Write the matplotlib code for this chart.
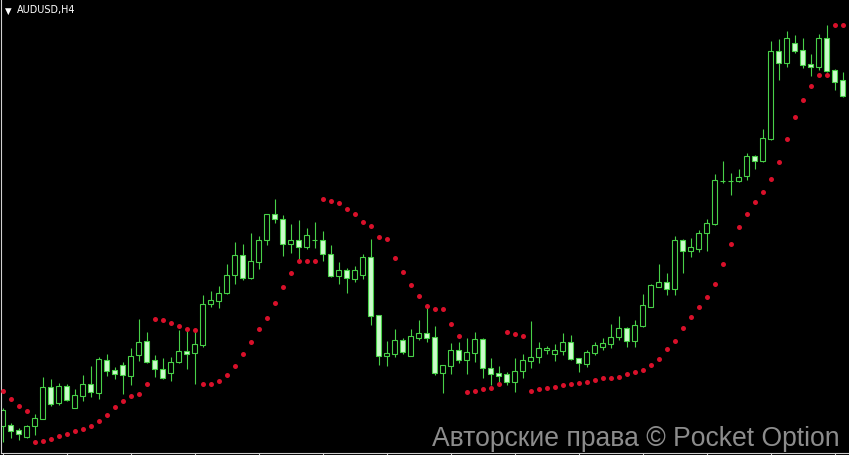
import matplotlib
matplotlib.use("Agg")
import matplotlib.pyplot as plt
import numpy as np

# ── Data: AUDUSD H4 candles + Parabolic SAR ─────────────────────────────────
opens = [0.6974, 0.6975, 0.6970, 0.6963, 0.6974, 0.6981, 0.7013, 0.6997, 0.7014, 0.6992,
         0.7004, 0.7016, 0.7007, 0.7040, 0.7030, 0.7035, 0.7024, 0.7045, 0.7059, 0.7040,
         0.7031, 0.7027, 0.7038, 0.7049, 0.7047, 0.7055, 0.7096, 0.7099, 0.7107, 0.7125,
         0.7145, 0.7122, 0.7138, 0.7160, 0.7186, 0.7181, 0.7156, 0.7160, 0.7153, 0.7160,
         0.7160, 0.7146, 0.7124, 0.7130, 0.7121, 0.7125, 0.7143, 0.7085, 0.7044, 0.7046,
         0.7060, 0.7044, 0.7062, 0.7067, 0.7063, 0.7027, 0.7034, 0.7050, 0.7040, 0.7047,
         0.7061, 0.7032, 0.7027, 0.7026, 0.7018, 0.7029, 0.7039, 0.7043, 0.7050, 0.7046,
         0.7049, 0.7058, 0.7042, 0.7036, 0.7047, 0.7053, 0.7056, 0.7063, 0.7072, 0.7059,
         0.7074, 0.7093, 0.7113, 0.7118, 0.7111, 0.7160, 0.7149, 0.7151, 0.7167, 0.7176,
         0.7219, 0.7219, 0.7219, 0.7224, 0.7244, 0.7239, 0.7261, 0.7349, 0.7337, 0.7357,
         0.7350, 0.7336, 0.7333, 0.7362, 0.7330, 0.7320]
highs = [0.6992, 0.6977, 0.6972, 0.6975, 0.6986, 0.7023, 0.7021, 0.7017, 0.7016, 0.7011,
         0.7025, 0.7034, 0.7043, 0.7046, 0.7033, 0.7038, 0.7052, 0.7081, 0.7068, 0.7045,
         0.7042, 0.7043, 0.7070, 0.7072, 0.7070, 0.7105, 0.7109, 0.7114, 0.7136, 0.7158,
         0.7156, 0.7167, 0.7164, 0.7186, 0.7201, 0.7185, 0.7176, 0.7180, 0.7172, 0.7178,
         0.7169, 0.7155, 0.7138, 0.7132, 0.7134, 0.7146, 0.7161, 0.7085, 0.7059, 0.7071,
         0.7062, 0.7071, 0.7080, 0.7092, 0.7074, 0.7035, 0.7057, 0.7058, 0.7062, 0.7068,
         0.7062, 0.7042, 0.7034, 0.7028, 0.7042, 0.7046, 0.7079, 0.7058, 0.7054, 0.7056,
         0.7067, 0.7065, 0.7042, 0.7050, 0.7058, 0.7062, 0.7076, 0.7084, 0.7073, 0.7080,
         0.7106, 0.7116, 0.7136, 0.7127, 0.7164, 0.7161, 0.7162, 0.7170, 0.7181, 0.7226,
         0.7239, 0.7227, 0.7231, 0.7247, 0.7245, 0.7271, 0.7359, 0.7361, 0.7369, 0.7365,
         0.7362, 0.7346, 0.7366, 0.7375, 0.7331, 0.7328]
lows = [0.6958, 0.6962, 0.6960, 0.6962, 0.6965, 0.6981, 0.6994, 0.6995, 0.6999, 0.6992,
        0.6999, 0.7003, 0.7001, 0.7024, 0.7021, 0.7006, 0.7015, 0.7039, 0.7037, 0.7023,
        0.7021, 0.7019, 0.7037, 0.7031, 0.7016, 0.7053, 0.7093, 0.7092, 0.7106, 0.7116,
        0.7120, 0.7121, 0.7131, 0.7155, 0.7177, 0.7144, 0.7147, 0.7141, 0.7151, 0.7152,
        0.7139, 0.7123, 0.7116, 0.7107, 0.7118, 0.7121, 0.7075, 0.7035, 0.7034, 0.7043,
        0.7046, 0.7044, 0.7060, 0.7058, 0.7025, 0.7007, 0.7026, 0.7037, 0.7026, 0.7038,
        0.7022, 0.7015, 0.7018, 0.7015, 0.7008, 0.7022, 0.7032, 0.7037, 0.7046, 0.7039,
        0.7045, 0.7040, 0.7028, 0.7033, 0.7045, 0.7050, 0.7052, 0.7060, 0.7053, 0.7053,
        0.7073, 0.7093, 0.7113, 0.7105, 0.7105, 0.7127, 0.7143, 0.7148, 0.7149, 0.7175,
        0.7217, 0.7205, 0.7218, 0.7220, 0.7231, 0.7238, 0.7260, 0.7320, 0.7333, 0.7347,
        0.7332, 0.7324, 0.7330, 0.7328, 0.7310, 0.7303]
closes = [0.6990, 0.6969, 0.6966, 0.6974, 0.6982, 0.7013, 0.6996, 0.7014, 0.7000, 0.7005,
          0.7016, 0.7008, 0.7041, 0.7029, 0.7026, 0.7025, 0.7044, 0.7058, 0.7038, 0.7031,
          0.7022, 0.7038, 0.7049, 0.7046, 0.7056, 0.7096, 0.7100, 0.7107, 0.7125, 0.7145,
          0.7122, 0.7139, 0.7160, 0.7186, 0.7181, 0.7156, 0.7160, 0.7153, 0.7165, 0.7160,
          0.7146, 0.7124, 0.7130, 0.7122, 0.7130, 0.7143, 0.7084, 0.7044, 0.7047, 0.7060,
          0.7048, 0.7064, 0.7067, 0.7062, 0.7027, 0.7035, 0.7050, 0.7040, 0.7048, 0.7061,
          0.7032, 0.7026, 0.7024, 0.7018, 0.7029, 0.7040, 0.7043, 0.7052, 0.7052, 0.7050,
          0.7058, 0.7041, 0.7037, 0.7048, 0.7055, 0.7057, 0.7063, 0.7072, 0.7059, 0.7075,
          0.7095, 0.7115, 0.7118, 0.7111, 0.7160, 0.7149, 0.7153, 0.7167, 0.7177, 0.7220,
          0.7219, 0.7219, 0.7223, 0.7244, 0.7239, 0.7262, 0.7349, 0.7337, 0.7362, 0.7349,
          0.7335, 0.7333, 0.7362, 0.7329, 0.7318, 0.7304]
sar = [0.7009, 0.7001, 0.6994, 0.6989, 0.6958, 0.6959, 0.6961, 0.6964, 0.6966, 0.6969,
       0.6971, 0.6974, 0.6979, 0.6985, 0.6993, 0.6999, 0.7004, 0.7006, 0.7016, 0.7081,
       0.7080, 0.7077, 0.7074, 0.7071, 0.7070, 0.7016, 0.7016, 0.7019, 0.7025, 0.7034,
       0.7046, 0.7058, 0.7071, 0.7082, 0.7097, 0.7113, 0.7127, 0.7139, 0.7139, 0.7139,
       0.7201, 0.7199, 0.7197, 0.7191, 0.7186, 0.7178, 0.7174, 0.7163, 0.7161, 0.7142,
       0.7128, 0.7115, 0.7104, 0.7094, 0.7091, 0.7091, 0.7076, 0.7064, 0.7008, 0.7009,
       0.7011, 0.7012, 0.7016, 0.7068, 0.7066, 0.7064, 0.7009, 0.7011, 0.7012, 0.7013,
       0.7015, 0.7016, 0.7017, 0.7018, 0.7020, 0.7022, 0.7022, 0.7023, 0.7026, 0.7028,
       0.7030, 0.7035, 0.7041, 0.7051, 0.7059, 0.7072, 0.7083, 0.7093, 0.7103, 0.7116,
       0.7136, 0.7156, 0.7173, 0.7186, 0.7198, 0.7208, 0.7221, 0.7238, 0.7261, 0.7283,
       0.7300, 0.7314, 0.7325, 0.7325, 0.7375, 0.7375]

symbol = "AUDUSD,H4"
watermark = "Авторские права © Pocket Option"

# ── Style ───────────────────────────────────────────────────────────────────
BG = "black"
EDGE = "#48d048"
BEAR_FILL = "#ccfccc"
SAR_COL = "#d8102a"
W, H = 849, 455

fig = plt.figure(figsize=(W / 100, H / 100), dpi=100, facecolor=BG)
ax = fig.add_axes([1 / W, 2.5 / H, 1 - 1 / W, 1 - 2.5 / H])
ax.set_facecolor(BG)

x = np.arange(len(opens))
o, h, l, c = map(np.array, (opens, highs, lows, closes))
bear = c < o

# wicks behind, bodies on top
ax.vlines(x, l, h, color=EDGE, linewidth=0.8, zorder=1)
body_lo = np.minimum(o, c)
body_h = np.abs(c - o)
ax.bar(x, body_h, bottom=body_lo, width=0.6,
       color=np.where(bear, BEAR_FILL, BG), edgecolor=EDGE, linewidth=0.8, zorder=2)

ax.plot(x, sar, linestyle="none", marker="o", markersize=3.6,
        color=SAR_COL, markeredgewidth=0, zorder=3)

ax.set_xlim(-1.7 / 8, (W - 1 - 1.7) / 8)
ax.set_ylim(0.74 - (H - 2.5) / 10000, 0.74)

for side in ("top", "right"):
    ax.spines[side].set_visible(False)
for side in ("left", "bottom"):
    ax.spines[side].set_color("#d0d0d0")
    ax.spines[side].set_linewidth(0.8)
ax.set_xticks(np.arange(0, len(opens), 8))
ax.set_xticklabels([])
ax.set_yticks([])
ax.tick_params(axis="x", direction="out", length=2.5, width=0.8, color="#d0d0d0")

# header + watermark
fig.text(4.5 / W, 1 - 11 / H, "▼", color="white", fontsize=6.2, va="center", ha="left")
fig.text(17 / W, 1 - 10.5 / H, symbol, color="white", fontsize=6.9,
         va="center", ha="left", family="DejaVu Sans")
fig.text(432 / W, 1 - 439 / H, watermark, color="#8c8c8c", fontsize=19.1,
         va="center", ha="left", family="Liberation Sans")

fig.savefig("out.png", dpi=100, facecolor=BG)
